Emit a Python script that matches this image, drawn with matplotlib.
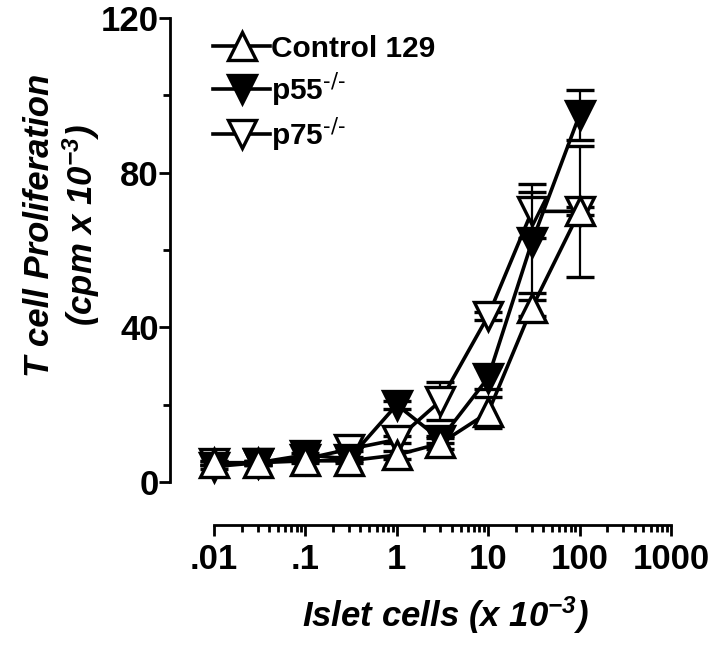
import matplotlib
matplotlib.use("Agg")
import matplotlib.pyplot as plt
from matplotlib.lines import Line2D
from matplotlib.ticker import FixedLocator, FixedFormatter, NullFormatter

plt.rcParams['font.family'] = ['Liberation Sans', 'DejaVu Sans']
plt.rcParams['mathtext.default'] = 'regular'

# Data
islet_cells = [0.01, 0.03, 0.1, 0.3, 1, 3, 10, 30, 100]
control_129 = [5, 5, 5.5, 5.5, 7, 10, 18, 45, 70]
control_err = [0.5, 0.5, 0.5, 0.5, 1, 1.5, 4, 2, 17]
p55 = [4, 5, 7, 6, 20, 11, 27, 62, 95]
p55_err = [0.5, 0.5, 0.5, 0.5, 1, 1, 3, 13, 6.5]
p75 = [5, 5, 6, 8.5, 11, 21, 43, 70, 70]
p75_err = [0.5, 0.5, 0.5, 0.5, 1, 5, 1, 7, 1]

x_major = [0.01, 0.1, 1, 10, 100, 1000]
x_labels = ['.01', '.1', '1', '10', '100', '1000']
y_major = [0, 40, 80, 120]
y_minor = [20, 60, 100]

fig = plt.figure(figsize=(7.2, 6.49), dpi=100)
ax = fig.add_axes([170/720, 1-525/649, 520/720, 515/649])

ms = 20
lw = 2.6
mew = 2.4
cap = 10

common = dict(lw=lw, ms=ms, mew=mew, mec='black', color='black',
              ecolor='black', elinewidth=1.6, capsize=cap, capthick=1.8,
              clip_on=False)

ax.errorbar(islet_cells, p75, yerr=p75_err, marker='v', mfc='white',
            zorder=3, **common)
ax.errorbar(islet_cells, p55, yerr=p55_err, marker='v', mfc='black',
            zorder=4, **common)
ax.errorbar(islet_cells, control_129, yerr=control_err, marker='^',
            mfc='white', zorder=5, **common)

hstyle = dict(color='black', lw=lw, ms=ms, mew=mew, mec='black')
hc = Line2D([], [], marker='^', mfc='white', label='Control 129', **hstyle)
h55 = Line2D([], [], marker='v', mfc='black', label=r'p55$^{\text{-/-}}$', **hstyle)
h75 = Line2D([], [], marker='v', mfc='white', label=r'p75$^{\text{-/-}}$', **hstyle)

ax.set_xscale('log')
ax.set_xlim(10**(-2-44/91.4), 10**(3+19/91.4))
ax.set_ylim(-11.1, 122.07)

for s in ['top', 'right']:
    ax.spines[s].set_visible(False)
ax.spines['left'].set_bounds(0, 120)
ax.spines['bottom'].set_bounds(0.01, 1000)
ax.spines['left'].set_linewidth(2)
ax.spines['bottom'].set_linewidth(2)

ax.xaxis.set_major_locator(FixedLocator(x_major))
ax.xaxis.set_major_formatter(FixedFormatter(x_labels))
minors = [m * d for d in [0.01, 0.1, 1, 10, 100] for m in range(2, 10)]
ax.xaxis.set_minor_locator(FixedLocator(minors))
ax.xaxis.set_minor_formatter(NullFormatter())

ax.yaxis.set_major_locator(FixedLocator(y_major))
ax.yaxis.set_minor_locator(FixedLocator(y_minor))

ax.tick_params(axis='both', which='major', length=8, width=2, direction='out',
               labelsize=25)
ax.tick_params(axis='both', which='minor', length=5, width=2, direction='out')
ax.tick_params(axis='y', pad=0)
ax.tick_params(axis='x', pad=5)
for lab in ax.get_xticklabels() + ax.get_yticklabels():
    lab.set_fontweight('bold')

ax.set_ylabel('T cell Proliferation\n(cpm x 10$^{-3}$)', fontsize=25,
              fontweight='bold', fontstyle='italic', linespacing=1.15)
ax.yaxis.set_label_coords(-0.13, 0.5825)
ax.set_xlabel('Islet cells (x 10$^{-3}$)', fontsize=25, fontweight='bold',
              fontstyle='italic')
ax.xaxis.set_label_coords(0.529, -0.135)

leg = ax.legend(handles=[hc, h55, h75], loc='upper left',
                bbox_to_anchor=(0.06, 0.975), frameon=False, fontsize=21.5,
                handlelength=1.9, handletextpad=0.05, labelspacing=0.25,
                borderaxespad=0.0)
for t in leg.get_texts():
    t.set_fontweight('bold')

fig.savefig('out.png', dpi=100)
